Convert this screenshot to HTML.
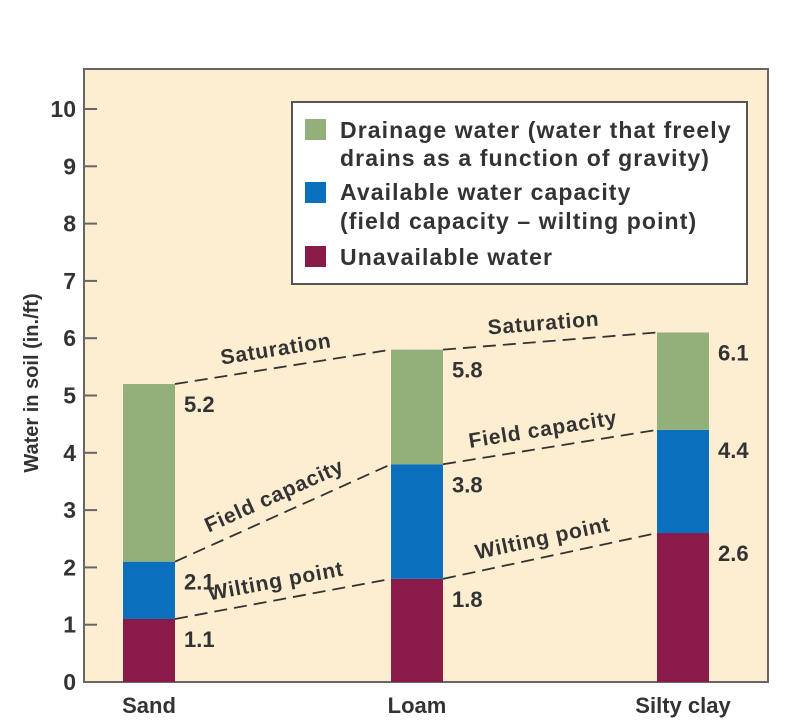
<!DOCTYPE html>
<html><head><meta charset="utf-8">
<style>
body{margin:0;background:#fff;}
svg{display:block;font-family:"Liberation Sans",Arial,sans-serif;font-weight:bold;}
.lg{font-size:23px;letter-spacing:1.1px;fill:#333;}
</style></head>
<body>
<svg id="c" width="798" height="722" viewBox="0 0 798 722">
<rect x="84" y="69" width="684" height="613" fill="#fdeed1" stroke="#666" stroke-width="2"/>
<g id="ticks"></g>
<g id="bars"></g>
<g id="lines"></g>
<text transform="translate(38,383) rotate(-90)" text-anchor="middle" font-size="20" fill="#333">Water in soil (in./ft)</text>
<g>
<rect x="292" y="102" width="455" height="182" fill="#fff" stroke="#555" stroke-width="2"/>
<rect x="305" y="119" width="21" height="21" fill="#94b07a"/>
<text x="340" y="138" class="lg">Drainage water (water that freely</text>
<text x="340" y="166" class="lg">drains as a function of gravity)</text>
<rect x="305" y="182" width="21" height="21" fill="#0a70bd"/>
<text x="340" y="200" class="lg">Available water capacity</text>
<text x="340" y="229" class="lg">(field capacity – wilting point)</text>
<rect x="305" y="246" width="21" height="21" fill="#8a1a48"/>
<text x="340" y="265" class="lg">Unavailable water</text>
</g>
</svg>
<script>
const categories=["Sand","Loam","Silty clay"];
const wiltingPoint=[1.1,1.8,2.6];
const fieldCapacity=[2.1,3.8,4.4];
const saturation=[5.2,5.8,6.1];
const yTicks=[0,1,2,3,4,5,6,7,8,9,10];
const NS="http://www.w3.org/2000/svg";
const y=v=>682-57.3*v;
const barLeft=[123,391,657];
const bw=52;
function mk(tag,attrs,parent){const e=document.createElementNS(NS,tag);for(const k in attrs)e.setAttribute(k,attrs[k]);parent.appendChild(e);return e;}
const tg=document.getElementById('ticks');
yTicks.forEach(t=>{
 const l=mk('line',{x1:84,x2:97,y1:y(t),y2:y(t),stroke:'#666','stroke-width':2},tg);
 
 
 const tx=mk('text',{x:76,y:y(t)+8,'text-anchor':'end','font-size':23,fill:'#333'},tg);
 tx.textContent=t;
 
 
});
const bg=document.getElementById('bars');
categories.forEach((c,i)=>{
 const x=barLeft[i];
 const segs=[[0,wiltingPoint[i],'#8a1a48','unavailable'],[wiltingPoint[i],fieldCapacity[i],'#0a70bd','available'],[fieldCapacity[i],saturation[i],'#94b07a','drainage']];
 segs.forEach(s=>{
  const r=mk('rect',{x:x,y:y(s[1]),width:bw,height:y(s[0])-y(s[1]),fill:s[2]},bg);
  
  
 });
 [wiltingPoint[i],fieldCapacity[i],saturation[i]].forEach(v=>{
  const t=mk('text',{x:x+bw+9,y:y(v)+28,'font-size':22,fill:'#333'},bg);
  t.textContent=v.toFixed(1);
  
  
 });
 const cl=mk('text',{x:x+bw/2,y:713,'text-anchor':'middle','font-size':22,fill:'#333'},bg);
 cl.textContent=c;
 
 
});
const lg=document.getElementById('lines');
const series=[[saturation,'Saturation'],[fieldCapacity,'Field capacity'],[wiltingPoint,'Wilting point']];
series.forEach(([arr,name])=>{
 for(let i=0;i<categories.length-1;i++){
  const x1=barLeft[i]+bw,y1=y(arr[i]),x2=barLeft[i+1],y2=y(arr[i+1]);
  const l=mk('line',{x1:x1,y1:y1,x2:x2,y2:y2,stroke:'#333','stroke-width':1.8,'stroke-dasharray':'13,7'},lg);
  
  
  const ang=Math.atan2(y2-y1,x2-x1)*180/Math.PI;
  const mx=(x1+x2)/2-6,my=(y1+y2)/2-11;
  const t=mk('text',{x:mx,y:my,'text-anchor':'middle','font-size':21,'letter-spacing':0.8,fill:'#333',transform:`rotate(${ang} ${mx} ${my})`},lg);
  t.textContent=name;
  
  
 }
});
</script>
</body></html>
